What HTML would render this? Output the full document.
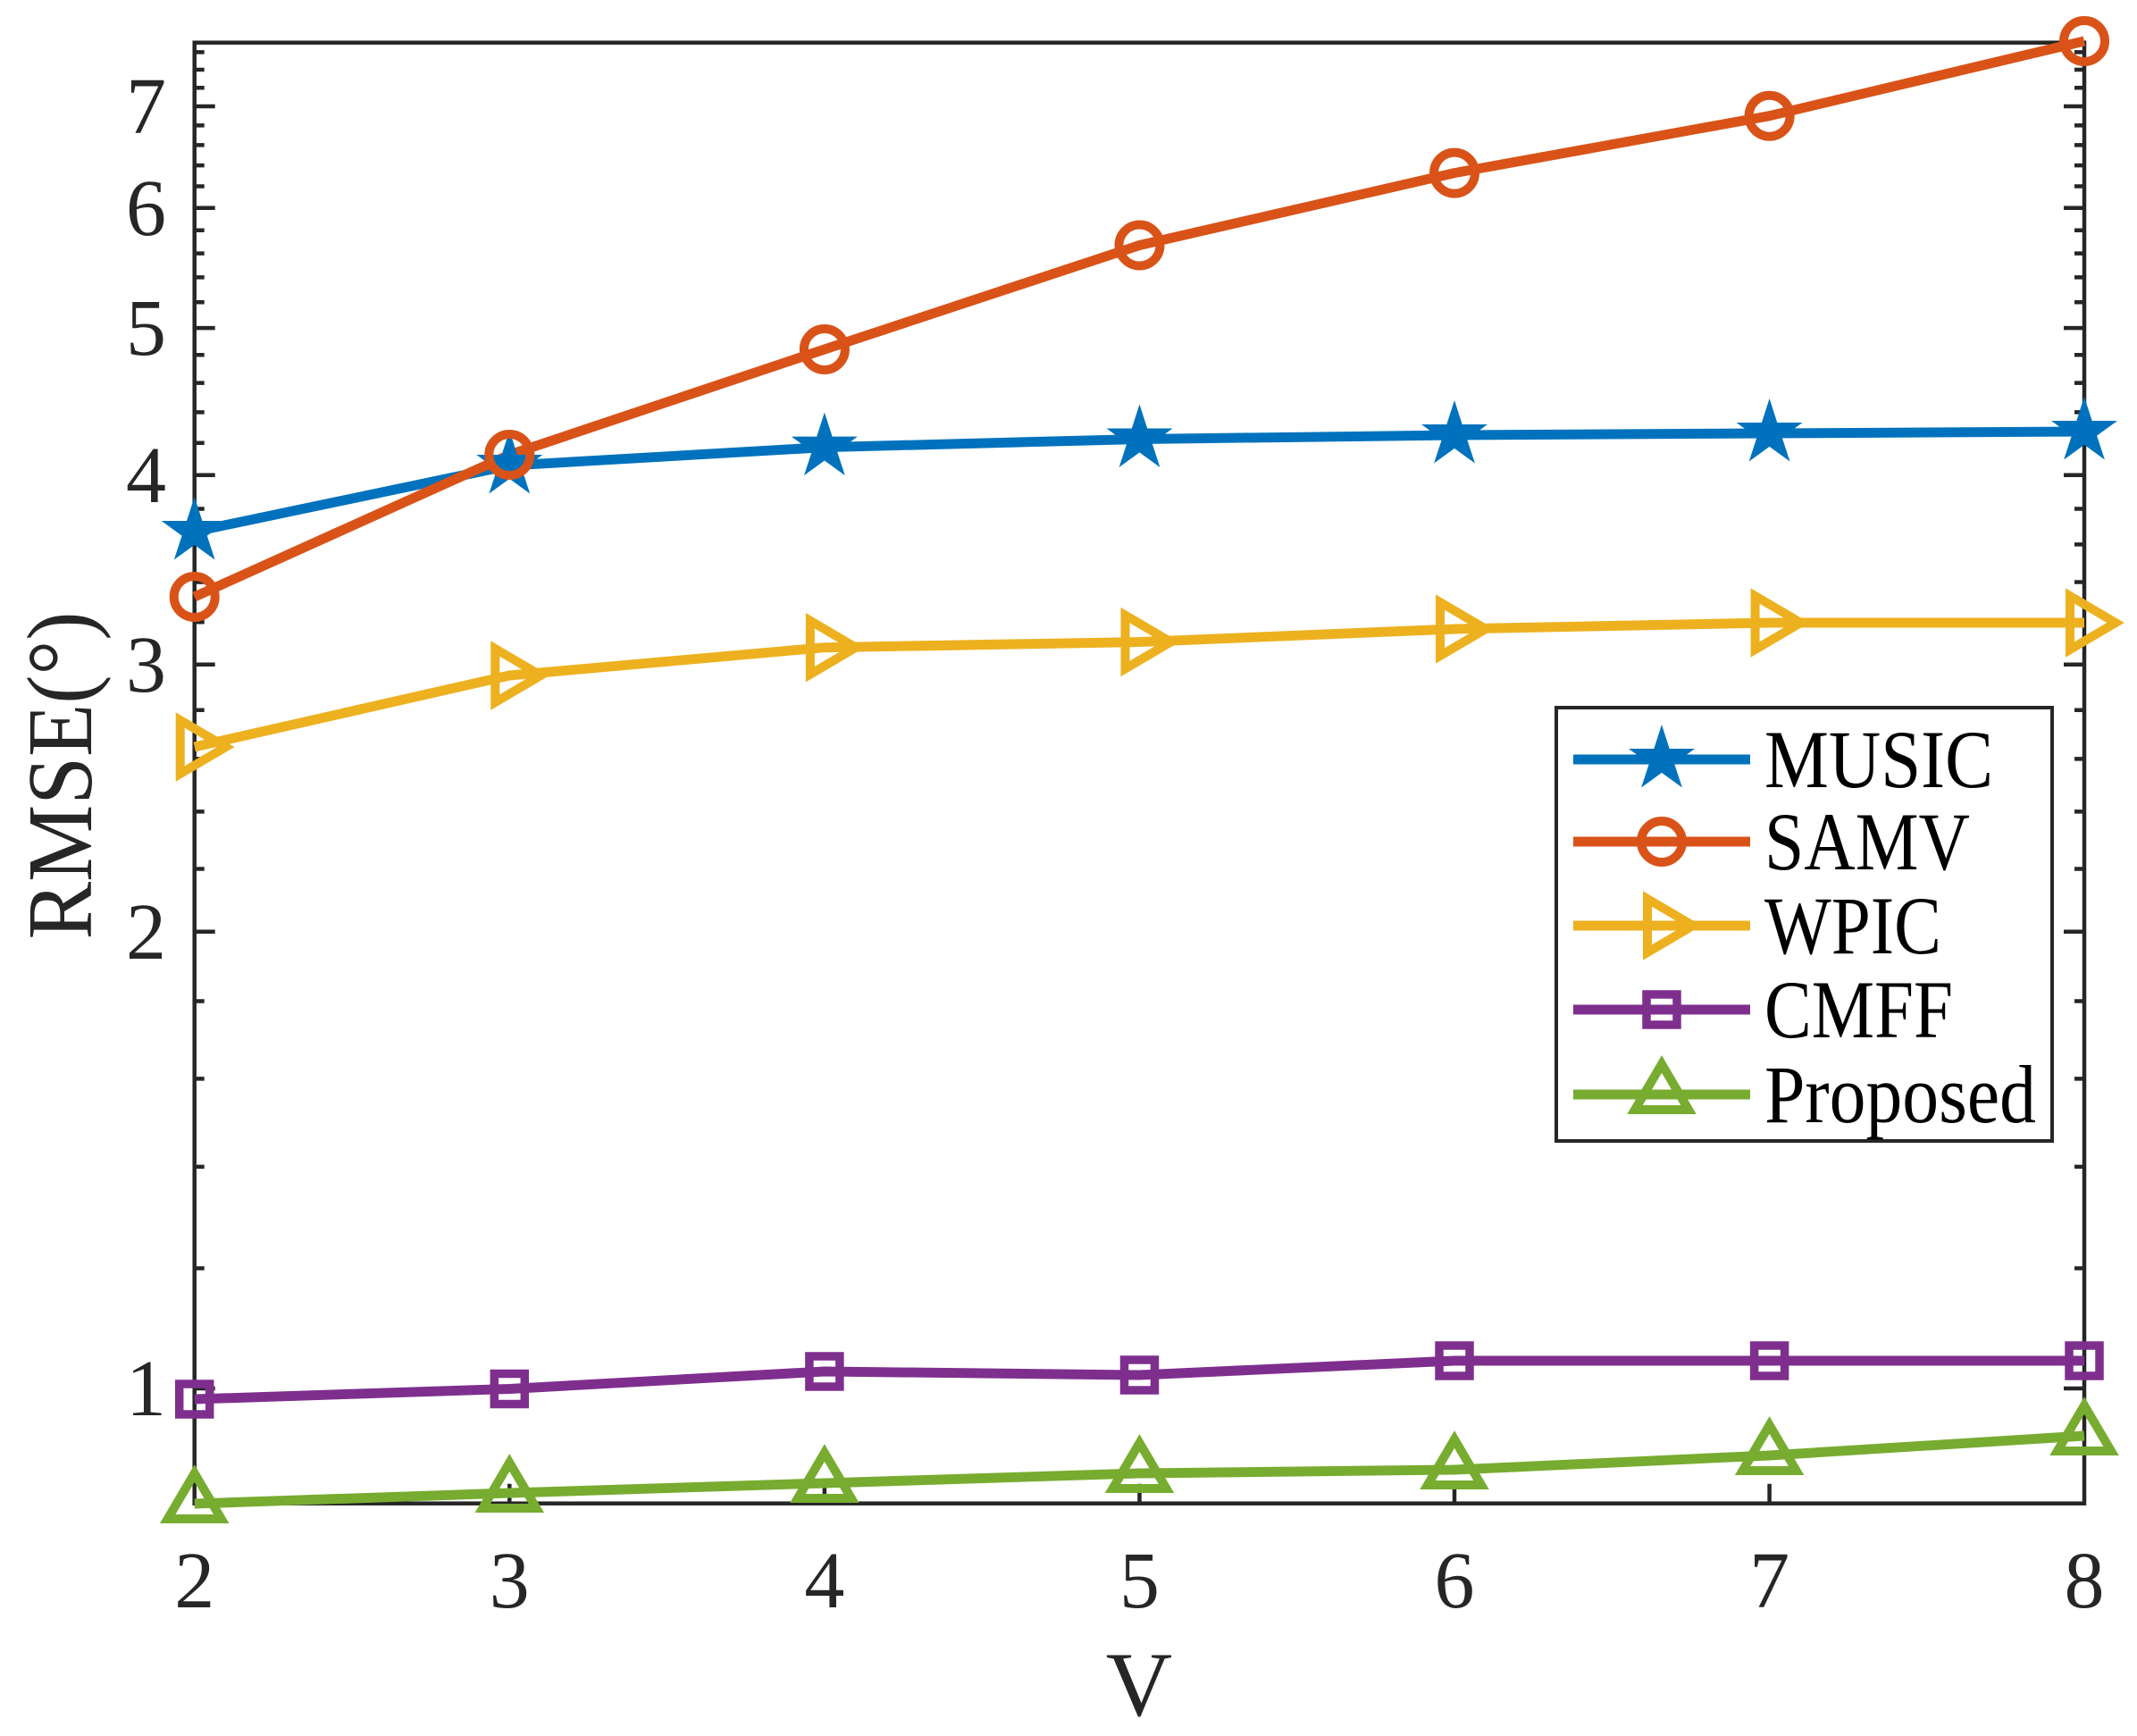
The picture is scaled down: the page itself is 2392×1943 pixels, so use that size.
<!DOCTYPE html>
<html><head><meta charset="utf-8"><style>
html,body{margin:0;padding:0;background:#fff;}
svg{display:block;}
text{font-family:"Liberation Serif",serif;}
</style></head><body>
<svg width="2392" height="1943" viewBox="0 0 2392 1943" xmlns="http://www.w3.org/2000/svg">
<defs>
<path id="st" d="M0,-39 L8.7,-12 L37,-12 L14.1,4.6 L22.9,31.5 L0,14.9 L-22.9,31.5 L-14.1,4.6 L-37,-12 L-8.7,-12 Z" fill="#0072BD"/>
<circle id="ci" r="23" fill="none" stroke="#D95319" stroke-width="10"/>
<polygon id="rt" points="-16,-30 35,0 -16,30" fill="none" stroke="#EDB120" stroke-width="10"/>
<rect id="sq" x="-17" y="-17" width="34" height="34" fill="none" stroke="#7E2F8E" stroke-width="9.5"/>
<polygon id="ut" points="0,-34 30,17 -30,17" fill="none" stroke="#77AC30" stroke-width="10"/>
</defs>
<g stroke="#262626" stroke-width="4.5" fill="none">
<path d="M217.7 1554h23M217.7 1042.8h23M217.7 743.8h23M217.7 531.7h23M217.7 367.1h23M217.7 232.7h23M217.7 119h23
M2333 1554h-23M2333 1042.8h-23M2333 743.8h-23M2333 531.7h-23M2333 367.1h-23M2333 232.7h-23M2333 119h-23"/>
<path d="M217.7 1419.5h11M217.7 1305.9h11M217.7 1207.4h11M217.7 1120.5h11M217.7 972.5h11M217.7 908.4h11M217.7 849.4h11M217.7 794.7h11M217.7 696.2h11M217.7 651.5h11M217.7 609.4h11M217.7 569.5h11M217.7 495.7h11M217.7 461.4h11M217.7 428.6h11M217.7 397.2h11M217.7 338.2h11M217.7 310.4h11M217.7 283.6h11M217.7 257.7h11M217.7 208.5h11M217.7 185.1h11M217.7 162.4h11M217.7 140.4h11M217.7 98.2h11M217.7 78h11M217.7 58.4h11
M2333 1419.5h-11M2333 1305.9h-11M2333 1207.4h-11M2333 1120.5h-11M2333 972.5h-11M2333 908.4h-11M2333 849.4h-11M2333 794.7h-11M2333 696.2h-11M2333 651.5h-11M2333 609.4h-11M2333 569.5h-11M2333 495.7h-11M2333 461.4h-11M2333 428.6h-11M2333 397.2h-11M2333 338.2h-11M2333 310.4h-11M2333 283.6h-11M2333 257.7h-11M2333 208.5h-11M2333 185.1h-11M2333 162.4h-11M2333 140.4h-11M2333 98.2h-11M2333 78h-11M2333 58.4h-11"/>
<path d="M570.3 1682.7v-22M922.9 1682.7v-22M1275.5 1682.7v-22M1628 1682.7v-22M1980.6 1682.7v-22"/>
<rect x="217.7" y="47.7" width="2115.3" height="1635"/>
</g>
<g font-size="90" text-anchor="end" fill="#262626">
<text x="186" y="1584">1</text><text x="186" y="1073">2</text><text x="186" y="774">3</text>
<text x="186" y="562">4</text><text x="186" y="397">5</text><text x="186" y="263">6</text><text x="186" y="149">7</text>
</g>
<g font-size="90" text-anchor="middle" fill="#262626">
<text x="217.7" y="1799">2</text><text x="570.3" y="1799">3</text><text x="922.9" y="1799">4</text>
<text x="1275.5" y="1799">5</text><text x="1628" y="1799">6</text><text x="1980.6" y="1799">7</text><text x="2333" y="1799">8</text>
</g>
<text x="1275" y="1920" font-size="103" text-anchor="middle" fill="#262626">V</text>
<text transform="translate(102,868) rotate(-90)" font-size="104" text-anchor="middle" fill="#262626" textLength="367" lengthAdjust="spacingAndGlyphs">RMSE(°)</text>

<g fill="none" stroke-width="11" stroke-linejoin="round">
<polyline stroke="#0072BD" points="217.7,595 570.3,521 922.9,500.6 1275.5,491.5 1628,487 1980.6,485 2333,483"/>
<polyline stroke="#D95319" points="217.7,668 570.3,509 922.9,391 1275.5,274.5 1628,193.6 1980.6,129.7 2333,46"/>
<polyline stroke="#EDB120" points="217.7,836 570.3,756 922.9,724.7 1275.5,718.5 1628,704 1980.6,697 2333,697"/>
<polyline stroke="#7E2F8E" points="217.7,1566 570.3,1554.5 922.9,1535 1275.5,1539 1628,1523 1980.6,1523 2333,1523"/>
<polyline stroke="#77AC30" points="217.7,1683 570.3,1671 922.9,1660 1275.5,1649 1628,1645 1980.6,1629 2333,1607"/>
</g>
<use href="#st" x="217.7" y="595"/><use href="#st" x="570.3" y="521"/><use href="#st" x="922.9" y="500.6"/><use href="#st" x="1275.5" y="491.5"/><use href="#st" x="1628" y="487"/><use href="#st" x="1980.6" y="485"/><use href="#st" x="2333" y="483"/>
<use href="#ci" x="217.7" y="668"/><use href="#ci" x="570.3" y="509"/><use href="#ci" x="922.9" y="391"/><use href="#ci" x="1275.5" y="274.5"/><use href="#ci" x="1628" y="193.6"/><use href="#ci" x="1980.6" y="129.7"/><use href="#ci" x="2333" y="46"/>
<use href="#rt" x="217.7" y="836"/><use href="#rt" x="570.3" y="756"/><use href="#rt" x="922.9" y="724.7"/><use href="#rt" x="1275.5" y="718.5"/><use href="#rt" x="1628" y="704"/><use href="#rt" x="1980.6" y="697"/><use href="#rt" x="2333" y="697"/>
<use href="#sq" x="217.7" y="1566"/><use href="#sq" x="570.3" y="1554.5"/><use href="#sq" x="922.9" y="1535"/><use href="#sq" x="1275.5" y="1539"/><use href="#sq" x="1628" y="1523"/><use href="#sq" x="1980.6" y="1523"/><use href="#sq" x="2333" y="1523"/>
<use href="#ut" x="217.7" y="1683"/><use href="#ut" x="570.3" y="1671"/><use href="#ut" x="922.9" y="1660"/><use href="#ut" x="1275.5" y="1649"/><use href="#ut" x="1628" y="1645"/><use href="#ut" x="1980.6" y="1629"/><use href="#ut" x="2333" y="1607"/>

<rect x="1742" y="792" width="555" height="485" fill="#fff" stroke="#262626" stroke-width="4"/>
<g stroke-width="11" fill="none">
<line x1="1761" y1="850" x2="1959" y2="850" stroke="#0072BD"/>
<line x1="1761" y1="942" x2="1959" y2="942" stroke="#D95319"/>
<line x1="1761" y1="1036" x2="1959" y2="1036" stroke="#EDB120"/>
<line x1="1761" y1="1130" x2="1959" y2="1130" stroke="#7E2F8E"/>
<line x1="1761" y1="1225" x2="1959" y2="1225" stroke="#77AC30"/>
</g>
<use href="#st" x="1860" y="850"/><use href="#ci" x="1860" y="942"/><use href="#rt" x="1860" y="1036"/><use href="#sq" x="1860" y="1130"/><use href="#ut" x="1860" y="1225"/>
<g font-size="92" fill="#000">
<text x="1975" y="881" textLength="256" lengthAdjust="spacingAndGlyphs">MUSIC</text>
<text x="1975" y="973" textLength="230" lengthAdjust="spacingAndGlyphs">SAMV</text>
<text x="1975" y="1067" textLength="198" lengthAdjust="spacingAndGlyphs">WPIC</text>
<text x="1975" y="1161" textLength="211" lengthAdjust="spacingAndGlyphs">CMFF</text>
<text x="1975" y="1256" textLength="304" lengthAdjust="spacingAndGlyphs">Proposed</text>
</g>
</svg>
</body></html>
